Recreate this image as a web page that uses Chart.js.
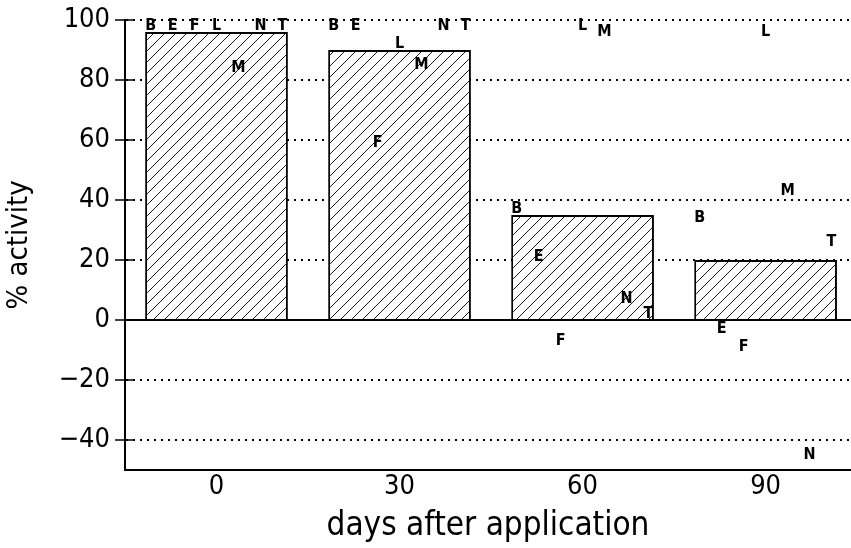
<!DOCTYPE html>
<html>
<head>
<meta charset="utf-8">
<script src="https://cdn.jsdelivr.net/npm/chart.js@4"></script>
<style>
  html, body { margin: 0; padding: 0; background: #fff; }
</style>
</head>
<body>
<canvas id="activityChart" width="851" height="548"></canvas>
<script>
// days after application and the mean activity (bars)
const days = [0, 30, 60, 90];
const meanActivity = [96, 90, 35, 20];

// individual values, one letter per series
const letters = ['B', 'E', 'F', 'L', 'M', 'N', 'T'];
const actB = [98, 98, 37, 34];
const actE = [98, 98, 21, -3];
const actF = [98, 59, -7, -9];
const actL = [98, 92, 98, 96];
const actM = [84, 85, 96, 43];
const actN = [98, 98, 7, -45];
const actT = [98, 98, 2, 26];

const yTicks = [-40, -20, 0, 20, 40, 60, 80, 100];

const letterValues = { B: actB, E: actE, F: actF, L: actL, M: actM, N: actN, T: actT };
const FONT = "'DejaVu Sans Condensed', 'DejaVu Sans', sans-serif";

Chart.defaults.font.family = FONT;
Chart.defaults.color = '#000';

function hatch() {
  const c = document.createElement('canvas');
  c.width = 11;
  c.height = 11;
  const g = c.getContext('2d');
  g.fillStyle = '#fff';
  g.fillRect(0, 0, 11, 11);
  g.strokeStyle = '#000';
  g.lineWidth = 0.9;
  g.beginPath();
  g.moveTo(0, 11); g.lineTo(11, 0);
  g.moveTo(-1, 1); g.lineTo(1, -1);
  g.moveTo(10, 12); g.lineTo(12, 10);
  g.stroke();
  return g.createPattern(c, 'repeat');
}

const datasets = [{
  type: 'bar',
  data: days.map((d, i) => ({ x: d, y: meanActivity[i] })),
  backgroundColor: hatch(),
  borderColor: '#000',
  borderWidth: 2,
  barPercentage: 0.78,
  categoryPercentage: 1
}];

// letters spread evenly across each bar
letters.forEach((name, i) => {
  datasets.push({
    type: 'scatter',
    label: name,
    data: days.map((d, j) => ({ x: d + (i - 3) * 3.6, y: letterValues[name][j] })),
    pointRadius: 0,
    pointHoverRadius: 0
  });
});

const plotExtras = {
  id: 'plotExtras',
  afterDatasetsDraw(chart) {
    const { ctx, chartArea, scales: { y } } = chart;
    ctx.save();
    ctx.strokeStyle = '#000';
    // inner half of the y tick marks
    ctx.lineWidth = 1.5;
    yTicks.forEach(v => {
      const py = y.getPixelForValue(v);
      ctx.beginPath();
      ctx.moveTo(chartArea.left, py);
      ctx.lineTo(chartArea.left + 8, py);
      ctx.stroke();
    });
    // zero line
    ctx.lineWidth = 2;
    const y0 = y.getPixelForValue(0);
    ctx.beginPath();
    ctx.moveTo(chartArea.left, y0);
    ctx.lineTo(chartArea.right, y0);
    ctx.stroke();
    // letters
    ctx.fillStyle = '#000';
    ctx.font = 'bold 16px ' + FONT;
    ctx.textAlign = 'center';
    ctx.textBaseline = 'middle';
    chart.data.datasets.forEach((ds, i) => {
      if (ds.type !== 'scatter') return;
      chart.getDatasetMeta(i).data.forEach(pt => {
        ctx.fillText(ds.label, pt.x, pt.y);
      });
    });
    ctx.restore();
  }
};

new Chart(document.getElementById('activityChart').getContext('2d'), {
  data: { datasets: datasets },
  plugins: [plotExtras],
  options: {
    responsive: false,
    animation: false,
    layout: { padding: { top: 20, left: 0, right: 0, bottom: 0 } },
    plugins: {
      legend: { display: false },
      tooltip: { enabled: false }
    },
    scales: {
      x: {
        type: 'linear',
        offset: false,
        min: -15,
        max: 104,
        afterBuildTicks: s => { s.ticks = days.map(v => ({ value: v })); },
        afterFit: s => { s.height = 78; },
        grid: { display: false },
        border: { display: true, color: '#000', width: 2 },
        ticks: { font: { size: 27, lineHeight: 1 }, padding: -5, maxRotation: 0 },
        title: {
          display: true,
          text: 'days after application',
          font: { size: 33, lineHeight: 1 },
          padding: { top: 0, bottom: 5 }
        }
      },
      y: {
        min: -50,
        max: 100,
        afterBuildTicks: s => { s.ticks = yTicks.map(v => ({ value: v })); },
        afterFit: s => { s.width = 125; },
        grid: {
          color: c => (c.tick && c.tick.value === 0) ? 'rgba(0,0,0,0)' : '#000',
          lineWidth: 2,
          tickColor: '#000',
          tickWidth: 1.5,
          tickLength: 10
        },
        border: { display: true, color: '#000', width: 2, dash: [2, 5] },
        ticks: {
          font: { size: 27, lineHeight: 1 },
          padding: 5,
          callback: v => String(v).replace('-', '\u2212')
        },
        title: {
          display: true,
          text: '% activity',
          font: { size: 29, lineHeight: 1 },
          padding: { top: 5, bottom: 0 }
        }
      }
    }
  }
});
</script>
</body>
</html>
